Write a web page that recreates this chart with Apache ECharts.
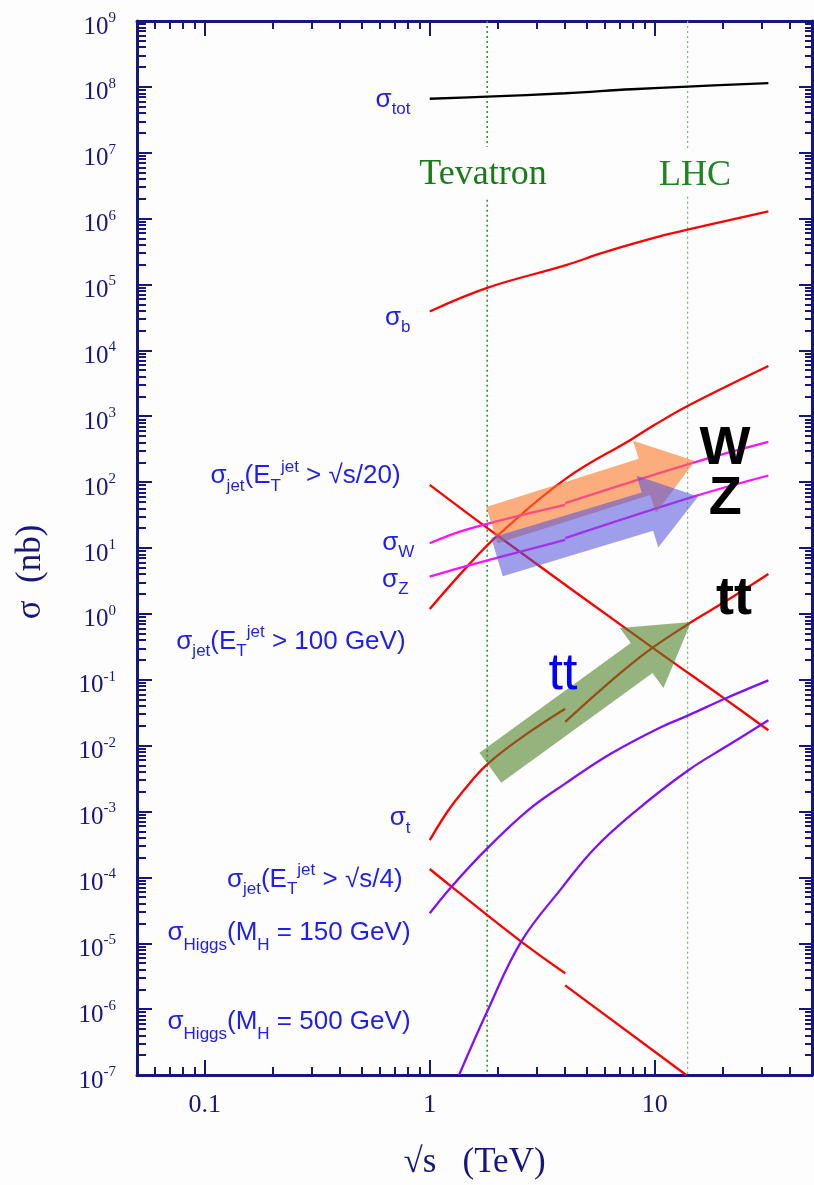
<!DOCTYPE html>
<html><head><meta charset="utf-8">
<script src="https://cdn.jsdelivr.net/npm/echarts@6/dist/echarts.min.js"></script>
<style>html,body{margin:0;padding:0;background:#fff}#c{width:814px;height:1185px}</style>
</head><body><div id="c"></div>
<script>
// ---------------- data (sqrt(s) in TeV, sigma in nb) ----------------
const xTickLabels = [0.1, 1, 10];
const yTickLabels = [1e-7,1e-6,1e-5,1e-4,1e-3,1e-2,1e-1,1,1e1,1e2,1e3,1e4,1e5,1e6,1e7,1e8,1e9];

const sTot      = [1, 1.8, 4, 7.9, 14, 32];
const sigmaTot  = [6.6e7, 7.1e7, 8.0e7, 9.2e7, 1.01e8, 1.14e8];

const sB        = [1, 1.8, 4, 6, 11, 14, 32];
const sigmaB    = [3.9e4, 8.9e4, 1.95e5, 3.1e5, 5.6e5, 6.8e5, 1.29e6];

const sJet20     = [1, 2, 9.7, 20.5, 32];
const sigmaJet20 = [91, 15.5, 0.313, 0.0513, 0.0171];

const sJet100     = [1, 1.48, 2, 4, 7.9, 10, 14, 32];
const sigmaJet100 = [1.19, 5.4, 15.4, 111, 449, 741, 1432, 5780];

const sW_ppbar = [1, 1.48, 4];      const sigmaW_ppbar = [11.8, 19.4, 45.2];
const sW_pp    = [4, 15, 32];       const sigmaW_pp    = [47.9, 199, 408];
const sZ_ppbar = [1, 1.48, 4];      const sigmaZ_ppbar = [3.67, 5.4, 13.3];
const sZ_pp    = [4, 15, 32];       const sigmaZ_pp    = [14.1, 60.7, 126];

const sTop_ppbar = [1, 1.2, 1.4, 1.8, 2.64, 4];
const sigmaTop_ppbar = [3.67e-4, 1.0e-3, 2.0e-3, 5.19e-3, 0.0143, 0.0364];
const sTop_pp = [4, 8.4, 14.5, 19.8, 32];
const sigmaTop_pp = [0.0229, 0.208, 0.748, 1.42, 4.04];

const sJet4_ppbar = [1, 1.25, 2.55, 4];   const sigmaJet4_ppbar = [1.34e-4, 7.23e-5, 1.06e-5, 3.51e-6];
const sJet4_pp    = [4, 13.8];            const sigmaJet4_pp    = [2.29e-6, 1e-7];

const sH150     = [1, 1.25, 1.8, 2.74, 4, 6.4, 10.7, 14.1, 20.5, 32];
const sigmaH150 = [2.85e-5, 7.23e-5, 2.75e-4, 1.05e-3, 2.65e-3, 7.57e-3, 0.0192, 0.0288, 0.0515, 0.0977];
const sH500     = [1.35, 1.8, 2.55, 3.85, 5.4, 8.15, 14.1, 21.2, 32];
const sigmaH500 = [1e-7, 9.2e-7, 1.06e-5, 6.8e-5, 2.75e-4, 9.9e-4, 4.23e-3, 0.0101, 0.0242];

// collider energies
const tevatronS = 1.8;
const lhcS = 14;

// arrows: [tail, tip] in (sqrt s, sigma)
const arrowW  = [[1.89, 22.3], [15.1, 210]];
const arrowZ  = [[1.99, 7.3],  [15.6, 60.7]];
const arrowTT = [[1.86, 4.6e-3], [14.5, 0.75]];

// ---------------- layout / style ----------------
const navy = '#16167c';
const blue = '#1e1ef0';
const SERIF = "'Liberation Serif','DejaVu Serif',serif";
const SANS  = "'Liberation Sans',Arial,sans-serif";

function zip(xs, ys){ return xs.map((x,i)=>[x, ys[i]]); }

const xMinor = [], yMinor = [], yMajor = yTickLabels.slice(), xMajor = [0.1, 1, 10];
for (let k = -2; k <= 1; k++) for (let m = 2; m <= 9; m++) { const v = +(m*Math.pow(10,k)).toPrecision(3); if (v >= 0.05 && v <= 50) xMinor.push(v); }
for (let k = -7; k <= 8; k++) for (let m = 2; m <= 9; m++) yMinor.push(+(m*Math.pow(10,k)).toPrecision(3));

function mkX(pos, ticks, len, showLine, showLabel, extra){
  return Object.assign({
    type:'log', logBase:10, min:0.05, max:50, position:pos, gridIndex:0,
    axisLine:{show:showLine, onZero:false, lineStyle:{color:navy, width:3}},
    axisTick:{show:true, inside:true, length:len, customValues:ticks, lineStyle:{color:navy, width:2}},
    axisLabel:{show:false},
    splitLine:{show:false}
  }, extra||{});
}
function mkY(pos, ticks, len, showLine, extra){
  return Object.assign({
    type:'log', logBase:10, min:1e-7, max:1e9, position:pos, gridIndex:0,
    axisLine:{show:showLine, onZero:false, lineStyle:{color:navy, width:3}},
    axisTick:{show:true, inside:true, length:len, customValues:ticks, lineStyle:{color:navy, width:2}},
    axisLabel:{show:false},
    splitLine:{show:false}
  }, extra||{});
}

function curve(name, xs, ys, color, smooth){
  return {type:'line', name, data:zip(xs,ys), xAxisIndex:0, yAxisIndex:0, symbol:'none',
    smooth: smooth===undefined?0.4:smooth, lineStyle:{color, width:2.3}, itemStyle:{color}, silent:true, z:3};
}
function vline(x, segs, color, width){
  return segs.map(s => ({type:'line', data:[[x,s[0]],[x,s[1]]], symbol:'none', silent:true, z:1,
    lineStyle:{color, width, type:[2,3]}}));
}

const RED='#ff0000', MAG='#ff10ff', PUR='#7f10ff';

// rich styles for curve labels
const richLbl = {
  m:   {fontFamily:SANS, fontSize:26, color:blue, opacity:1},
  sub: {fontFamily:SANS, fontSize:17, color:blue, opacity:1, padding:[20,0,0,0]},
  subH:{fontFamily:SANS, fontSize:17, color:blue, opacity:1, padding:[24,0,0,0]},
  sup: {fontFamily:SANS, fontSize:17, color:blue, opacity:1, padding:[0,0,18,0]}
};
const labelTexts = [
  {t:'{m|σ}{sub|tot}', at:[0.826, 6.47e7]},
  {t:'{m|σ}{sub|b}', at:[0.826, 3.16e4]},
  {t:'{m|σ}{sub|jet}{m|(E}{sub|T}{sup|jet}{m| > √s/20)}', at:[0.746, 123]},
  {t:'{m|σ}{sub|W}', at:[0.858, 12.1]},
  {t:'{m|σ}{sub|Z}', at:[0.809, 3.33]},
  {t:'{m|σ}{sub|jet}{m|(E}{sub|T}{sup|jet}{m| > 100 GeV)}', at:[0.785, 0.377]},
  {t:'{m|σ}{sub|t}', at:[0.826, 7.98e-4]},
  {t:'{m|σ}{sub|jet}{m|(E}{sub|T}{sup|jet}{m| > √s/4)}', at:[0.761, 9.33e-5]},
  {t:'{m|σ}{subH|Higgs}{m|(M}{subH|H}{m| = 150 GeV)}', at:[0.826, 1.42e-5]},
  {t:'{m|σ}{subH|Higgs}{m|(M}{subH|H}{m| = 500 GeV)}', at:[0.826, 6.35e-7]}
];
const centerTexts = [
  {t:'Tevatron', at:[1.725, 4.64e6], s:{fontFamily:SERIF, fontSize:36, color:'#187a18'}},
  {t:'LHC', at:[15.1, 4.49e6], s:{fontFamily:SERIF, fontSize:36, color:'#1f861f'}},
  {t:'W', at:[20.5, 316], s:{fontFamily:SANS, fontSize:54, fontWeight:'bold', color:'#000'}},
  {t:'Z', at:[20.6, 55.2], s:{fontFamily:SANS, fontSize:54, fontWeight:'bold', color:'#000'}},
  {t:'tt', at:[22.5, 1.69], s:{fontFamily:SANS, fontSize:54, fontWeight:'bold', color:'#000'}},
  {t:'tt', at:[3.91, 0.119], s:{fontFamily:SANS, fontSize:52, color:'#0000ff'}}
];

const arrowStyles = [
  {color:'rgba(250,120,40,0.6)', shaft:38, head:76, headLen:53},
  {color:'rgba(80,80,220,0.55)', shaft:40, head:75, headLen:53},
  {color:'rgba(80,130,40,0.6)', shaft:37, head:74, headLen:61}
];
const arrowData = [arrowW, arrowZ, arrowTT].map(a => [a[0][0], a[0][1], a[1][0], a[1][1]]);

const series = [].concat(
  vline(tevatronS, [[1e9, 1.23e7], [1.94e6, 1e-7]], '#1f9a1f', 1.6),
  vline(lhcS, [[1e9, 1.11e7], [2.15e6, 1e-7]], '#6cbf6c', 1.2),
  [
    curve('σtot', sTot, sigmaTot, '#000000'),
    curve('σb', sB, sigmaB, RED),
    curve('σjet √s/20', sJet20, sigmaJet20, RED),
    curve('σjet 100 GeV', sJet100, sigmaJet100, RED),
    curve('σW ppbar', sW_ppbar, sigmaW_ppbar, MAG),
    curve('σW pp', sW_pp, sigmaW_pp, MAG),
    curve('σZ ppbar', sZ_ppbar, sigmaZ_ppbar, MAG),
    curve('σZ pp', sZ_pp, sigmaZ_pp, MAG),
    curve('σt ppbar', sTop_ppbar, sigmaTop_ppbar, RED),
    curve('σt pp', sTop_pp, sigmaTop_pp, RED),
    curve('σjet √s/4 ppbar', sJet4_ppbar, sigmaJet4_ppbar, RED),
    curve('σjet √s/4 pp', sJet4_pp, sigmaJet4_pp, RED),
    curve('σHiggs 150', sH150, sigmaH150, PUR),
    curve('σHiggs 500', sH500, sigmaH500, PUR),
    {
      type:'custom', name:'arrows', xAxisIndex:0, yAxisIndex:0, silent:true, z:5,
      dimensions:['x0','y0','x1','y1'], encode:{x:[0,2], y:[1,3]},
      data: arrowData,
      renderItem(params, api){
        const a = api.coord([api.value(0), api.value(1)]);
        const b = api.coord([api.value(2), api.value(3)]);
        const st = arrowStyles[params.dataIndex];
        const dx=b[0]-a[0], dy=b[1]-a[1], L=Math.hypot(dx,dy);
        const ux=dx/L, uy=dy/L, nx=-uy, ny=ux;
        const hw=st.shaft/2, hh=st.head/2, hl=st.headLen;
        const bx=b[0]-ux*hl, by=b[1]-uy*hl;
        return {type:'polygon', shape:{points:[
          [a[0]+nx*hw, a[1]+ny*hw],[bx+nx*hw, by+ny*hw],[bx+nx*hh, by+ny*hh],[b[0],b[1]],
          [bx-nx*hh, by-ny*hh],[bx-nx*hw, by-ny*hw],[a[0]-nx*hw, a[1]-ny*hw]]},
          style:{fill:st.color}};
      }
    },
    {
      type:'scatter', name:'labels', xAxisIndex:0, yAxisIndex:0, silent:true, z:10,
      symbolSize:1, itemStyle:{color:'rgba(0,0,0,0)', opacity:1},
      data: labelTexts.map(l => ({value:l.at, label:{show:true, position:'left', distance:0, opacity:1,
        formatter:l.t, rich:richLbl, verticalAlign:'middle', align:'right'}}))
        .concat(centerTexts.map(l => ({value:l.at, label:Object.assign({show:true, position:'inside', opacity:1,
        formatter:l.t, align:'center', verticalAlign:'middle'}, l.s)})))
    }
  ]
);

const option = {
  animation:false,
  backgroundColor:'#fdfdfd',
  grid:{left:137, right:2, top:21, bottom:108, containLabel:false},
  xAxis:[
    mkX('bottom', xMajor, 15, true, true, {
      axisLabel:{show:true, customValues:xTickLabels, margin:17, color:navy, fontFamily:SERIF, fontSize:26,
        formatter:v=>String(+v.toPrecision(3))},
      name:'√s   (TeV)', nameLocation:'middle', nameGap:70,
      nameTextStyle:{fontFamily:SERIF, fontSize:35, color:navy}
    }),
    mkX('bottom', xMinor, 8, false),
    mkX('top', xMajor, 15, true),
    mkX('top', xMinor, 8, false)
  ],
  yAxis:[
    mkY('left', yMajor, 15, true, {
      axisLabel:{show:true, customValues:yTickLabels, margin:21, align:'right',
        formatter:v=>'{b|10}{e|'+Math.round(Math.log10(v))+'}',
        rich:{b:{fontFamily:SERIF, fontSize:25, color:navy, padding:[12,0,0,0]},
              e:{fontFamily:SERIF, fontSize:15, color:navy, padding:[0,0,6,0]}}},
      name:'σ  (nb)', nameLocation:'middle', nameGap:89,
      nameTextStyle:{fontFamily:SERIF, fontSize:35, color:navy, padding:[0,48,0,0]}
    }),
    mkY('left', yMinor, 9, false),
    mkY('right', yMajor, 13, true),
    mkY('right', yMinor, 7, false)
  ],
  series
};
const chart = echarts.init(document.getElementById('c'), null, {renderer:'canvas'});
chart.setOption(option);
</script></body></html>
